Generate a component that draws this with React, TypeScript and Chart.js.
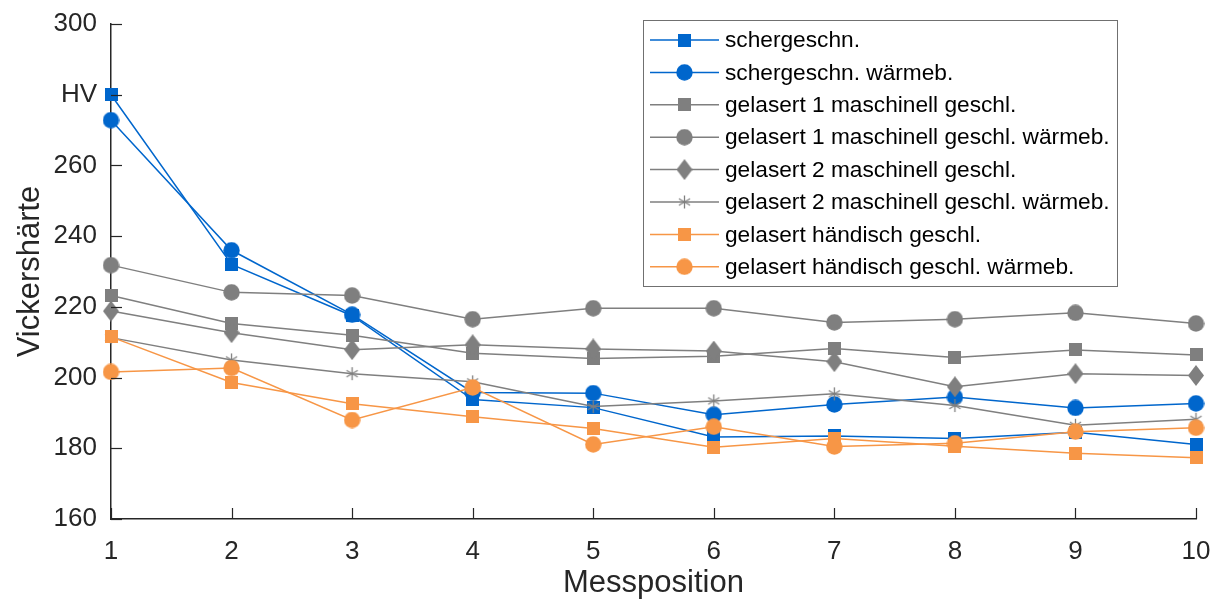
import React, { useEffect, useRef } from "react";
import { Chart, registerables } from "chart.js";

Chart.register(...registerables);

const positions = [1, 2, 3, 4, 5, 6, 7, 8, 9, 10];
const yTickValues = [160, 180, 200, 220, 240, 260, 280, 300];
const yTickLabels = ["160", "180", "200", "220", "240", "260", "HV", "300"];

const seriesNames = [
  "schergeschn.",
  "schergeschn. wärmeb.",
  "gelasert 1 maschinell geschl.",
  "gelasert 1 maschinell geschl. wärmeb.",
  "gelasert 2 maschinell geschl.",
  "gelasert 2 maschinell geschl. wärmeb.",
  "gelasert händisch geschl.",
  "gelasert händisch geschl. wärmeb.",
];

const schergeschn = [280, 232, 217.5, 193.8, 191.5, 183.2, 183.5, 182.8, 184.5, 181.1];
const schergeschnWaermeb = [272.8, 236, 217.8, 195.8, 195.6, 189.5, 192.4, 194.5, 191.4, 192.7];
const gelasert1 = [223.2, 215.3, 212, 206.9, 205.4, 206, 208.2, 205.7, 207.8, 206.4];
const gelasert1Waermeb = [231.8, 224.1, 223.2, 216.5, 219.6, 219.6, 215.6, 216.5, 218.3, 215.3];
const gelasert2 = [218.8, 212.7, 207.9, 209.3, 208.1, 207.5, 204.5, 197.4, 201.1, 200.6];
const gelasert2Waermeb = [211.3, 205, 201.1, 198.8, 191.8, 193.4, 195.4, 192.1, 186.5, 188.2];
const haendisch = [211.5, 198.6, 192.6, 188.9, 185.6, 180.3, 182.8, 180.6, 178.6, 177.3];
const haendischWaermeb = [201.6, 202.7, 188, 197.2, 181.1, 186.1, 180.5, 181.4, 184.7, 185.8];

const seriesValues = [
  schergeschn,
  schergeschnWaermeb,
  gelasert1,
  gelasert1Waermeb,
  gelasert2,
  gelasert2Waermeb,
  haendisch,
  haendischWaermeb,
];

const BLUE = "#0066cc";
const GRAY = "#7f7f7f";
const ORANGE = "#f79646";
const seriesColors = [BLUE, BLUE, GRAY, GRAY, GRAY, GRAY, ORANGE, ORANGE];
const seriesMarkers = ["square", "circle", "square", "circle", "diamond", "star", "square", "circle"];

const FONT = "'Liberation Sans', Arial, Helvetica, sans-serif";
const AXIS_COLOR = "#262626";

function makeMarker(kind: string, color: string): HTMLCanvasElement {
  const c = document.createElement("canvas");
  let w = 13;
  let h = 13;
  if (kind === "circle") { w = 17; h = 17; }
  if (kind === "diamond") { w = 16; h = 21; }
  if (kind === "star") { w = 15; h = 15; }
  c.width = w;
  c.height = h;
  const g = c.getContext("2d")!;
  g.fillStyle = color;
  g.strokeStyle = color;
  if (kind === "square") {
    g.fillRect(0, 0, w, h);
  } else if (kind === "circle") {
    g.beginPath();
    g.arc(w / 2, h / 2, w / 2 - 0.3, 0, Math.PI * 2);
    g.fill();
  } else if (kind === "diamond") {
    g.beginPath();
    g.moveTo(w / 2, 0);
    g.lineTo(w, h / 2);
    g.lineTo(w / 2, h);
    g.lineTo(0, h / 2);
    g.closePath();
    g.fill();
  } else if (kind === "star") {
    g.lineWidth = 1.3;
    const cx = w / 2;
    const cy = h / 2;
    const r = 6.5;
    [90, 30, 150].forEach((deg) => {
      const a = (deg * Math.PI) / 180;
      g.beginPath();
      g.moveTo(cx - Math.cos(a) * r, cy - Math.sin(a) * r);
      g.lineTo(cx + Math.cos(a) * r, cy + Math.sin(a) * r);
      g.stroke();
    });
  }
  return c;
}

export default function App() {
  const canvasRef = useRef<HTMLCanvasElement | null>(null);

  useEffect(() => {
    if (!canvasRef.current) return;
    const markers = seriesMarkers.map((m, i) => makeMarker(m, seriesColors[i]));

    const decorPlugin = {
      id: "decor",
      afterDraw(chart: any) {
        const ctx = chart.ctx as CanvasRenderingContext2D;
        const xs = chart.scales.x;
        const ys = chart.scales.y;
        const area = chart.chartArea;
        // inward ticks
        ctx.save();
        ctx.strokeStyle = AXIS_COLOR;
        ctx.lineWidth = 1.2;
        const tl = 11;
        yTickValues.forEach((v) => {
          const y = Math.round(ys.getPixelForValue(v)) + 0.5;
          ctx.beginPath();
          ctx.moveTo(area.left, y);
          ctx.lineTo(area.left + tl, y);
          ctx.stroke();
        });
        positions.forEach((p) => {
          const x = Math.round(xs.getPixelForValue(p)) + 0.5;
          ctx.beginPath();
          ctx.moveTo(x, area.bottom);
          ctx.lineTo(x, area.bottom - tl);
          ctx.stroke();
        });
        ctx.restore();

        // legend
        const bx = 643.5;
        const by = 20.5;
        const bw = 474;
        const bh = 266;
        ctx.save();
        ctx.fillStyle = "#ffffff";
        ctx.fillRect(bx, by, bw, bh);
        ctx.strokeStyle = "#707070";
        ctx.lineWidth = 1;
        ctx.strokeRect(bx, by, bw, bh);
        ctx.font = `22.7px ${FONT}`;
        ctx.textBaseline = "middle";
        ctx.textAlign = "left";
        seriesNames.forEach((name, i) => {
          const cy = 40 + i * 32.4;
          ctx.strokeStyle = seriesColors[i];
          ctx.lineWidth = 1.5;
          ctx.beginPath();
          ctx.moveTo(650, cy);
          ctx.lineTo(719, cy);
          ctx.stroke();
          const mk = markers[i];
          ctx.drawImage(mk, 684.5 - mk.width / 2, cy - mk.height / 2);
          ctx.fillStyle = "#000000";
          ctx.fillText(name, 725, cy + 1);
        });
        ctx.restore();
      },
    };

    const chart = new Chart(canvasRef.current, {
      type: "line",
      data: {
        datasets: seriesValues.map((vals, i) => ({
          label: seriesNames[i],
          data: positions.map((p, j) => ({ x: p, y: vals[j] })),
          borderColor: seriesColors[i],
          backgroundColor: seriesColors[i],
          borderWidth: 1.5,
          pointStyle: markers[i] as any,
          pointRadius: 8,
          pointHoverRadius: 8,
          tension: 0,
          clip: false as any,
          order: seriesValues.length - 1 - i,
        })),
      },
      options: {
        responsive: false,
        animation: false,
        devicePixelRatio: 1,
        layout: { padding: { top: 24, right: 26, left: 0, bottom: 0 } },
        plugins: {
          legend: { display: false },
          tooltip: { enabled: false },
        },
        scales: {
          x: {
            type: "linear",
            min: 1,
            max: 10,
            afterFit: (s: any) => {
              s.height = 80;
              s.paddingLeft = 0;
              s.paddingRight = 0;
            },
            afterBuildTicks: (s: any) => { s.ticks = positions.map((v) => ({ value: v })); },
            ticks: {
              stepSize: 1,
              padding: 17,
              color: AXIS_COLOR,
              font: { family: FONT, size: 26 },
              maxRotation: 0,
              autoSkip: false,
            },
            grid: { display: true, drawOnChartArea: false, drawTicks: false },
            border: { display: true, color: AXIS_COLOR, width: 1.5 },
            title: {
              display: true,
              text: "Messposition",
              color: AXIS_COLOR,
              font: { family: FONT, size: 31, lineHeight: 1 },
              padding: 0,
            },
          },
          y: {
            type: "linear",
            min: 160,
            max: 300,
            afterFit: (s: any) => {
              s.width = 111;
              s.paddingTop = 0;
              s.paddingBottom = 0;
            },
            afterBuildTicks: (s: any) => { s.ticks = yTickValues.map((v) => ({ value: v })); },
            ticks: {
              stepSize: 20,
              padding: 14,
              color: AXIS_COLOR,
              font: { family: FONT, size: 26 },
              callback: (v: any) => {
                const idx = yTickValues.indexOf(Number(v));
                return idx >= 0 ? yTickLabels[idx] : String(v);
              },
            },
            grid: { display: true, drawOnChartArea: false, drawTicks: false },
            border: { display: true, color: AXIS_COLOR, width: 1.5 },
            title: {
              display: true,
              text: "Vickershärte",
              color: AXIS_COLOR,
              font: { family: FONT, size: 31, lineHeight: 1 },
              padding: { top: 15, bottom: 0 },
            },
          },
        },
      },
      plugins: [decorPlugin],
    });
    return () => chart.destroy();
  }, []);

  return (
    <div style={{ position: "absolute", left: 0, top: 0, width: 1222, height: 599, background: "#ffffff" }}>
      <canvas ref={canvasRef} width={1222} height={599} />
    </div>
  );
}
